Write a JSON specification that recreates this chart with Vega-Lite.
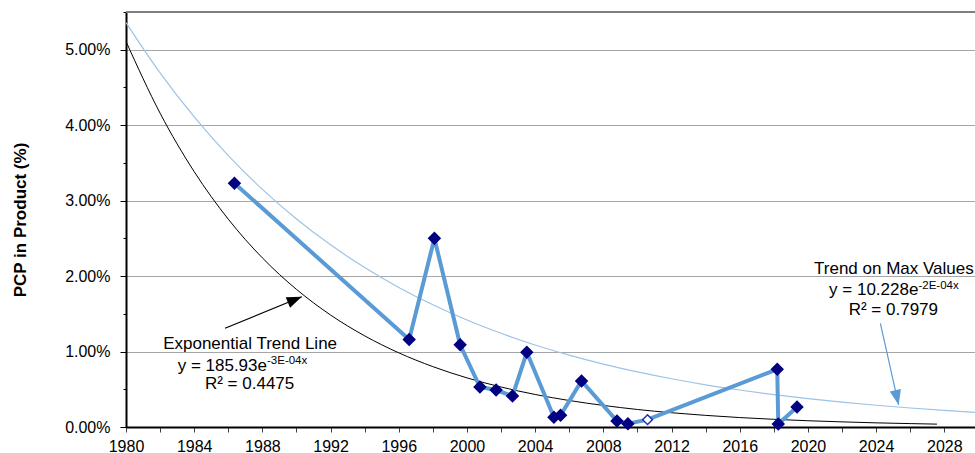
{
  "$schema": "https://vega.github.io/schema/vega-lite/v6.json",
  "autosize": "none",
  "padding": {"left": 126, "top": 12, "right": 0, "bottom": 26},
  "width": 849,
  "height": 415,
  "background": "white",
  "config": {
    "font": "Liberation Sans",
    "view": {"stroke": null}
  },
  "datasets": {
    "points": [
      {"order": 1, "year": 1986.36, "pcp": 0.0323, "marker": "filled"},
      {"order": 2, "year": 1996.61, "pcp": 0.0116, "marker": "filled"},
      {"order": 3, "year": 1998.09, "pcp": 0.0250, "marker": "filled"},
      {"order": 4, "year": 1999.60, "pcp": 0.0109, "marker": "filled"},
      {"order": 5, "year": 2000.76, "pcp": 0.0053, "marker": "filled"},
      {"order": 6, "year": 2001.71, "pcp": 0.0049, "marker": "filled"},
      {"order": 7, "year": 2002.67, "pcp": 0.0041, "marker": "filled"},
      {"order": 8, "year": 2003.51, "pcp": 0.0099, "marker": "filled"},
      {"order": 9, "year": 2005.10, "pcp": 0.0013, "marker": "filled"},
      {"order": 10, "year": 2005.49, "pcp": 0.00155, "marker": "filled"},
      {"order": 11, "year": 2006.72, "pcp": 0.0061, "marker": "filled"},
      {"order": 12, "year": 2008.80, "pcp": 0.0008, "marker": "filled"},
      {"order": 13, "year": 2009.44, "pcp": 0.00044, "marker": "filled"},
      {"order": 14, "year": 2010.59, "pcp": 0.00097, "marker": "open"},
      {"order": 15, "year": 2018.20, "pcp": 0.00765, "marker": "filled"},
      {"order": 16, "year": 2018.26, "pcp": 0.0004, "marker": "filled"},
      {"order": 17, "year": 2019.36, "pcp": 0.00265, "marker": "filled"}
    ],
    "trend_all": [
      {"year": 1980, "pcp": 0.0511}, {"year": 1982, "pcp": 0.04159}, {"year": 1984, "pcp": 0.03384},
      {"year": 1986, "pcp": 0.02754}, {"year": 1988, "pcp": 0.02241}, {"year": 1990, "pcp": 0.01824},
      {"year": 1992, "pcp": 0.01484}, {"year": 1994, "pcp": 0.01208}, {"year": 1996, "pcp": 0.00983},
      {"year": 1998, "pcp": 0.0080}, {"year": 2000, "pcp": 0.00651}, {"year": 2002, "pcp": 0.0053},
      {"year": 2004, "pcp": 0.00431}, {"year": 2006, "pcp": 0.00351}, {"year": 2008, "pcp": 0.00286},
      {"year": 2010, "pcp": 0.00232}, {"year": 2012, "pcp": 0.00189}, {"year": 2014, "pcp": 0.00154},
      {"year": 2016, "pcp": 0.00125}, {"year": 2018, "pcp": 0.00102}, {"year": 2020, "pcp": 0.00083},
      {"year": 2022, "pcp": 0.00068}, {"year": 2024, "pcp": 0.00055}, {"year": 2026, "pcp": 0.00045},
      {"year": 2027.57, "pcp": 0.00038}
    ],
    "trend_max": [
      {"year": 1980, "pcp": 0.0536}, {"year": 1982, "pcp": 0.04693}, {"year": 1984, "pcp": 0.04109},
      {"year": 1986, "pcp": 0.03597}, {"year": 1988, "pcp": 0.03149}, {"year": 1990, "pcp": 0.02757},
      {"year": 1992, "pcp": 0.02414}, {"year": 1994, "pcp": 0.02113}, {"year": 1996, "pcp": 0.0185},
      {"year": 1998, "pcp": 0.0162}, {"year": 2000, "pcp": 0.01418}, {"year": 2002, "pcp": 0.01242},
      {"year": 2004, "pcp": 0.01087}, {"year": 2006, "pcp": 0.00952}, {"year": 2008, "pcp": 0.00833},
      {"year": 2010, "pcp": 0.0073}, {"year": 2012, "pcp": 0.00639}, {"year": 2014, "pcp": 0.00559},
      {"year": 2016, "pcp": 0.0049}, {"year": 2018, "pcp": 0.00429}, {"year": 2020, "pcp": 0.00375},
      {"year": 2022, "pcp": 0.00329}, {"year": 2024, "pcp": 0.00288}, {"year": 2026, "pcp": 0.00252},
      {"year": 2028, "pcp": 0.0022}, {"year": 2029.8, "pcp": 0.00195}
    ],
    "arrows": [
      {"trend": "all", "year": 1985.81, "pcp": 0.01308, "year2": 1990.31, "pcp2": 0.01727},
      {"trend": "max", "year": 2024.25, "pcp": 0.01374, "year2": 2025.32, "pcp2": 0.00292}
    ],
    "notes_center": [
      {"year": 1987.28, "pcp": 0.0110, "text": "Exponential Trend Line"},
      {"year": 1987.25, "pcp": 0.0057, "text": "R² = 0.4475"},
      {"year": 2025.04, "pcp": 0.02094, "text": "Trend on Max Values"},
      {"year": 2025.01, "pcp": 0.01551, "text": "R² = 0.7979"}
    ],
    "notes_eq": [
      {"year": 1988.27, "pcp": 0.00808, "text": "y = 185.93e"},
      {"year": 2026.48, "pcp": 0.01816, "text": "y = 10.228e"}
    ],
    "notes_sup": [
      {"year": 1988.27, "pcp": 0.00881, "text": "-3E-04x"},
      {"year": 2026.48, "pcp": 0.01869, "text": "-2E-04x"}
    ]
  },
  "encoding": {
    "x": {
      "field": "year", "type": "quantitative",
      "scale": {"domain": [1980, 2029.8], "nice": false, "zero": false},
      "axis": {
        "title": null,
        "values": [1980,1982,1984,1986,1988,1990,1992,1994,1996,1998,2000,2002,2004,2006,2008,2010,2012,2014,2016,2018,2020,2022,2024,2026,2028],
        "labelExpr": "datum.value % 4 == 0 ? '' + datum.value : ''",
        "grid": false,
        "domainColor": "#000000", "domainWidth": 2,
        "tickColor": "#404040", "tickSize": 5, "tickWidth": 1,
        "labelFontSize": 16, "labelColor": "#000000", "labelPadding": 6,
        "labelFont": "Liberation Sans", "labelFlush": false, "labelOverlap": false
      }
    },
    "y": {
      "field": "pcp", "type": "quantitative",
      "scale": {"domain": [0, 0.055], "nice": false},
      "axis": {
        "title": "PCP in Product (%)",
        "titleFontSize": 17, "titleFontWeight": "bold", "titleColor": "#000000",
        "titleFont": "Liberation Sans", "titlePadding": 35,
        "values": [0,0.005,0.01,0.015,0.02,0.025,0.03,0.035,0.04,0.045,0.05,0.055],
        "labelExpr": "round(datum.value*200) % 2 == 0 ? format(datum.value, '.2%') : ''",
        "grid": true,
        "gridColor": "#A6A6A6", "gridWidth": 1,
        "gridOpacity": {"condition": {"test": "round(datum.value*200) % 2 == 1", "value": 0}, "value": 1},
        "domainColor": "#000000", "domainWidth": 2,
        "tickColor": "#000000", "tickWidth": 1,
        "tickSize": {"condition": {"test": "round(datum.value*200) % 2 == 1", "value": 3}, "value": 6},
        "labelFontSize": 16, "labelColor": "#000000", "labelPadding": 10,
        "labelFont": "Liberation Sans", "labelFlush": false, "labelOverlap": false
      }
    }
  },
  "layer": [
    {
      "data": {"values": [{"y": 0.055}]},
      "mark": {"type": "rule", "color": "#7F7F7F", "strokeWidth": 2},
      "encoding": {"y": {"field": "y", "type": "quantitative"}, "x": null}
    },
    {
      "data": {"name": "trend_all"},
      "mark": {"type": "line", "color": "#000000", "strokeWidth": 1, "interpolate": "monotone", "clip": true},
      "encoding": {}
    },
    {
      "data": {"name": "trend_max"},
      "mark": {"type": "line", "color": "#9DC3E6", "strokeWidth": 1.2, "interpolate": "monotone", "clip": true},
      "encoding": {}
    },
    {
      "data": {"name": "points"},
      "mark": {"type": "line", "color": "#5B9BD5", "strokeWidth": 4},
      "encoding": {"order": {"field": "order", "type": "quantitative"}}
    },
    {
      "data": {"name": "points"},
      "mark": {"type": "point", "shape": "diamond", "size": 130, "opacity": 1, "strokeWidth": 1.5},
      "encoding": {
        "fill": {"condition": {"test": "datum.marker == 'open'", "value": "#FFFFFF"}, "value": "#000080"},
        "stroke": {"condition": {"test": "datum.marker == 'open'", "value": "#1F2FB0"}, "value": "#000080"},
        "size": {"condition": {"test": "datum.marker == 'open'", "value": 95}, "value": 130}
      }
    },
    {
      "data": {"name": "arrows"},
      "mark": {"type": "rule", "strokeWidth": 1.2},
      "encoding": {
        "x2": {"field": "year2"},
        "y2": {"field": "pcp2"},
        "color": {"condition": {"test": "datum.trend == 'max'", "value": "#5B9BD5"}, "value": "#000000"}
      }
    },
    {
      "data": {"name": "arrows"},
      "mark": {"type": "point", "shape": "M0,0L-0.38,1L0.38,1Z", "filled": true, "opacity": 1, "size": 900, "strokeWidth": 0},
      "encoding": {
        "x": {"field": "year2", "type": "quantitative"},
        "y": {"field": "pcp2", "type": "quantitative"},
        "fill": {"condition": {"test": "datum.trend == 'max'", "value": "#5B9BD5"}, "value": "#000000"},
        "angle": {"condition": {"test": "datum.trend == 'max'", "value": 167.4}, "value": 67.6}
      }
    },
    {
      "data": {"name": "notes_center"},
      "mark": {"type": "text", "fontSize": 17, "align": "center", "baseline": "middle", "color": "#000000", "font": "Liberation Sans"},
      "encoding": {"text": {"field": "text"}}
    },
    {
      "data": {"name": "notes_eq"},
      "mark": {"type": "text", "fontSize": 17, "align": "right", "baseline": "middle", "color": "#000000", "font": "Liberation Sans"},
      "encoding": {"text": {"field": "text"}}
    },
    {
      "data": {"name": "notes_sup"},
      "mark": {"type": "text", "fontSize": 11.5, "align": "left", "baseline": "middle", "color": "#000000", "font": "Liberation Sans"},
      "encoding": {"text": {"field": "text"}}
    }
  ]
}
